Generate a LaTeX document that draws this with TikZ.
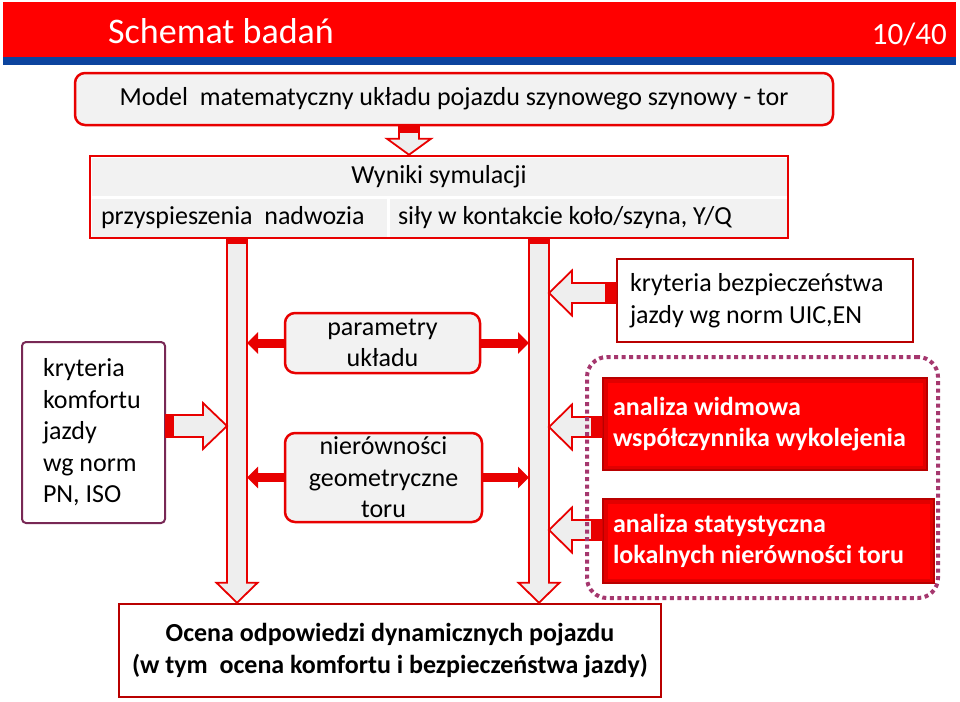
\documentclass[tikz,border=0pt]{standalone}
\usepackage{fontspec}
\setmainfont{Carlito}
\usetikzlibrary{calc,arrows.meta}

\definecolor{boxgray}{RGB}{242,242,242}
\definecolor{arrowgray}{RGB}{238,238,238}
\definecolor{bandred}{RGB}{255,0,0}
\definecolor{bandblue}{RGB}{12,68,158}
\definecolor{framered}{RGB}{232,0,0}
\definecolor{darkred}{RGB}{185,0,0}
\definecolor{plum}{RGB}{120,40,85}
\definecolor{dotplum}{RGB}{165,55,110}

\newcommand\shaftw{10pt}
\newcommand\headw{22pt}
\newcommand\headl{22pt}
\newcommand\tailw{7pt}

\tikzset{
  shaft half/.code={\def\shaftw{#1}},
  head half/.code={\def\headw{#1}},
  head len/.code={\def\headl{#1}},
  tail len/.code={\def\tailw{#1}},
  hollow arrow/.style={draw=framered, fill=arrowgray, line width=1.8pt,
    to path={($(\tikztostart)!\shaftw!90:(\tikztotarget)$)
      -- ($(\tikztotarget)!\headl!(\tikztostart)!\shaftw!-90:(\tikztostart)$)
      -- ($(\tikztotarget)!\headl!(\tikztostart)!\headw!-90:(\tikztostart)$)
      -- (\tikztotarget)
      -- ($(\tikztotarget)!\headl!(\tikztostart)!\headw!90:(\tikztostart)$)
      -- ($(\tikztotarget)!\headl!(\tikztostart)!\shaftw!90:(\tikztostart)$)
      -- ($(\tikztostart)!\shaftw!-90:(\tikztotarget)$) -- cycle}},
  tail block/.style={draw=none, fill=framered,
    to path={($(\tikztostart)!\shaftw!90:(\tikztotarget)$)
      -- ($(\tikztostart)!\tailw!(\tikztotarget)!\shaftw!-90:(\tikztostart)$)
      -- ($(\tikztostart)!\tailw!(\tikztotarget)!\shaftw!90:(\tikztostart)$)
      -- ($(\tikztostart)!\shaftw!-90:(\tikztotarget)$) -- cycle}},
  fat arrow/.style={draw=framered, line width=9pt, -{Triangle[length=11pt,width=21pt]}},
  greybox/.style={draw=framered, fill=boxgray, line width=2.5pt, rounded corners=10pt,
    align=center, inner ysep=0pt},
  cell/.style={fill=boxgray, draw=white, line width=3pt, inner sep=0pt},
  redbox/.style={fill=bandred, draw=darkred, line width=2.5pt, text=white,
    font=\fontsize{26}{31.5}\selectfont\bfseries, align=flush left, inner xsep=10pt,
    path picture={\draw[red!75!black, line width=9pt, opacity=0.45]
      (path picture bounding box.south west) rectangle (path picture bounding box.north east);}}
}

\begin{document}
\begin{tikzpicture}[x=1pt, y=-1pt, font=\fontsize{26}{31.5}\selectfont]
\useasboundingbox (0,0) rectangle (960,701);

% header
\fill[bandred] (3,2) rectangle (956,57);
\fill[bandblue] (3,57) rectangle (956,65);
\node[anchor=base west, text=white, font=\fontsize{36}{40}\selectfont, inner sep=0pt] (tytul) at (108,44) {Schemat badań};
\node[anchor=base east, text=white, font=\fontsize{31}{36}\selectfont, inner sep=0pt] (strona) at (947,45) {10/40};

\node[greybox, minimum width=758, minimum height=52] (model) at (454,99) {Model\ \ matematyczny układu pojazdu szynowego szynowy - tor};

% wyniki symulacji
\node[cell, minimum width=698, minimum height=41] (wynikiA) at (439,176.5) {Wyniki symulacji};
\node[cell, minimum width=298, minimum height=41, text width=276, inner xsep=11pt, align=flush left] (wynikiB) at (239,217.5) {przyspieszenia\ \ nadwozia};
\node[cell, minimum width=400, minimum height=41, text width=380, inner xsep=10pt, align=flush left] (wynikiC) at (588,217.5) {siły w kontakcie koło/szyna, Y/Q};
\node[draw=framered, line width=2.5pt, minimum width=698, minimum height=82] (wyniki) at (439,197) {};

\node[draw=plum, fill=white, line width=2pt, rounded corners=4pt, text width=101, inner xsep=21pt,
  minimum height=181, align=flush left] (komfort) at (93.5,432.5) {kryteria\\komfortu\\jazdy\\wg norm\\PN, ISO};

\node[greybox, minimum width=195, minimum height=60] (parametry) at (382.5,343) {parametry\\układu};
\node[greybox, minimum width=197, minimum height=89] (nierownosci) at (383.5,477.5) {nierówności\\geometryczne\\toru};

\node[draw=darkred, fill=white, line width=2.5pt, text width=270, inner xsep=13pt, minimum height=83,
  align=flush left] (kbezp) at (765,300.5) {kryteria bezpieczeństwa\\jazdy wg norm UIC,EN};

\node[redbox, text width=304, minimum height=92] (widmowa) at (765,424) {analiza widmowa\\współczynnika wykolejenia};
\node[redbox, text width=311, minimum height=84] (statyst) at (768.5,541) {analiza statystyczna\\lokalnych nierówności toru};

\node[draw=darkred, fill=white, line width=2.5pt, minimum width=542, minimum height=93, align=center,
  font=\fontsize{26}{31.5}\selectfont\bfseries] (ocena) at (390,650.5) {Ocena odpowiedzi dynamicznych pojazdu\\(w tym\ \ ocena komfortu i bezpieczeństwa jazdy)};

\coordinate (pion) at (409,0);
\coordinate (lewa) at (237,0);
\coordinate (prawa) at (539,0);
\coordinate (lewaL) at (227,0);
\coordinate (lewaR) at (247,0);
\coordinate (prawaL) at (529,0);
\coordinate (prawaR) at (549,0);

\coordinate (kA) at ([yshift=6.5pt]komfort.east);
\coordinate (bA) at ([yshift=7.5pt]kbezp.west);
\coordinate (wA) at ([yshift=-3pt]widmowa.west);
\coordinate (sA) at ([yshift=11pt]statyst.west);

\path (pion |- model.south) edge[hollow arrow, head len=16pt] (pion |- wyniki.north)
  edge[tail block] (pion |- wyniki.north);

\path (lewa |- wyniki.south) edge[hollow arrow, head len=20pt, head half=20.5pt] (lewa |- ocena.north)
  edge[tail block, tail len=5pt] (lewa |- ocena.north);
\path (prawa |- wyniki.south) edge[hollow arrow, head len=20pt, head half=20.5pt] (prawa |- ocena.north)
  edge[tail block, tail len=5pt] (prawa |- ocena.north);

\path (kA) edge[hollow arrow, shaft half=11pt, head half=23pt, head len=24pt] (kA -| lewaL)
  edge[tail block, shaft half=11pt, tail len=8pt] (kA -| lewaL);
\path (bA) edge[hollow arrow, head half=22.5pt, head len=23pt] (bA -| prawaR)
  edge[tail block, tail len=11pt] (bA -| prawaR);
\path (wA) edge[hollow arrow, head half=22.5pt, head len=23pt] (wA -| prawaR)
  edge[tail block, tail len=11pt] (wA -| prawaR);
\path (sA) edge[hollow arrow, head half=22.5pt, head len=23pt] (sA -| prawaR)
  edge[tail block, tail len=11pt] (sA -| prawaR);

\draw[fat arrow] (parametry.west) -- (parametry.west -| lewaR);
\draw[fat arrow] (parametry.east) -- (parametry.east -| prawaL);
\draw[fat arrow] (nierownosci.west) -- (nierownosci.west -| lewaR);
\draw[fat arrow] (nierownosci.east) -- (nierownosci.east -| prawaL);

\node[draw=dotplum, line width=4pt, dash pattern=on 4pt off 3.5pt, rounded corners=20pt,
  minimum width=351, minimum height=241] (ramka) at (762.5,477.5) {};

\end{tikzpicture}
\end{document}
